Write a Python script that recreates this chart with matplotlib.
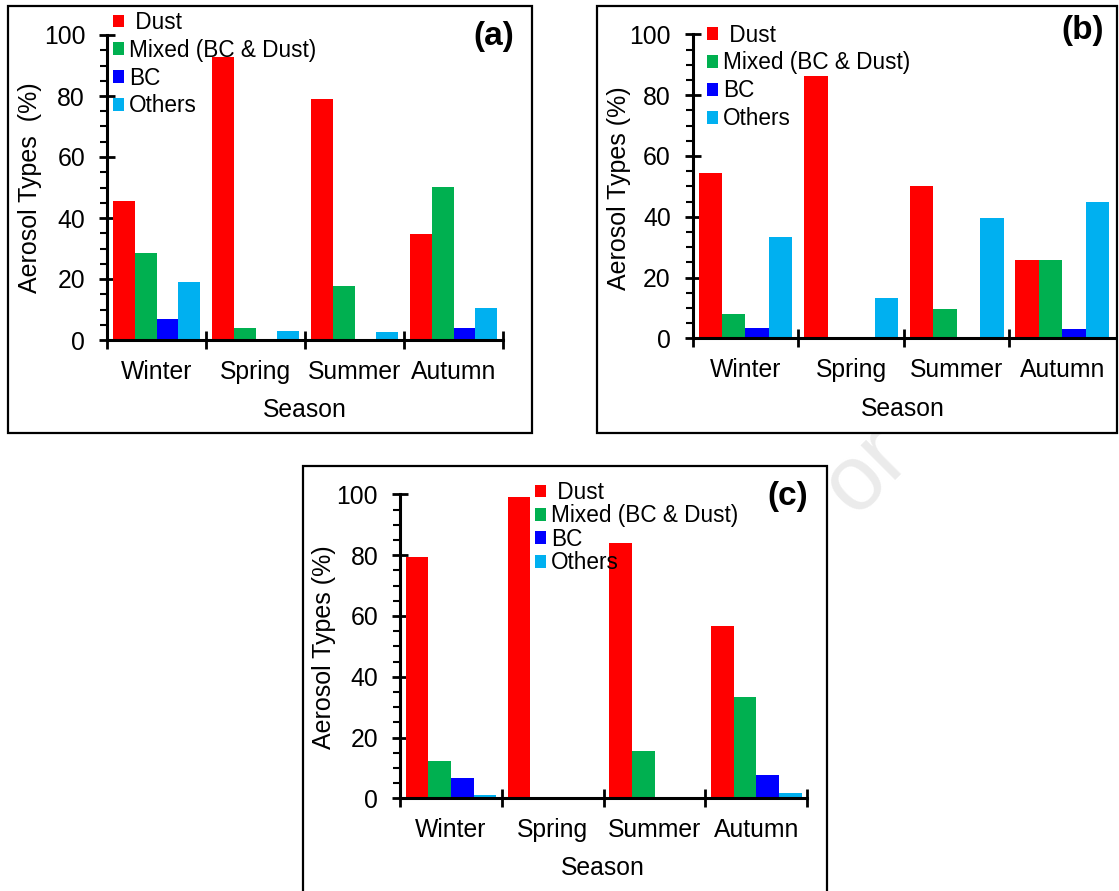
import matplotlib
matplotlib.use('Agg')
import matplotlib.pyplot as plt
from matplotlib.patches import Patch, Rectangle
from matplotlib.ticker import MultipleLocator
import numpy as np

plt.rcParams['font.family'] = ['Liberation Sans', 'DejaVu Sans']

# ---------------- data ----------------
seasons = ["Winter", "Spring", "Summer", "Autumn"]
aerosol_types = ["Dust", "Mixed (BC & Dust)", "BC", "Others"]
legend_labels = [" Dust", "Mixed (BC & Dust)", "BC", "Others"]
colors = ["#FF0000", "#00B050", "#0000FF", "#00B0F0"]

a_dust = [45.5, 92.7, 79.0, 34.8]
a_mixed = [28.4, 3.8, 17.8, 50.2]
a_bc = [6.8, 0.0, 0.0, 3.8]
a_others = [18.9, 3.0, 2.7, 10.6]

b_dust = [54.3, 86.3, 50.1, 25.8]
b_mixed = [7.9, 0.0, 9.5, 25.8]
b_bc = [3.3, 0.0, 0.0, 3.0]
b_others = [33.4, 13.2, 39.5, 44.8]

c_dust = [79.3, 99.0, 84.0, 56.7]
c_mixed = [12.4, 0.5, 15.5, 33.3]
c_bc = [6.6, 0.0, 0.0, 7.7]
c_others = [1.1, 0.0, 0.0, 1.9]

# ---------------- layout (pixels) ----------------
W, H = 1119, 891
fig = plt.figure(figsize=(W / 100, H / 100), dpi=100)

panels = [
    dict(tag="(a)", series=[a_dust, a_mixed, a_bc, a_others],
         ax=(107, 503, 340, 35), border=(8, 6, 532, 433),
         ylabel="Aerosol Types  (%)", ylab=(42, 188), xlab=(305, 398),
         xticks=[0, 1, 2, 3, 4], leg=(113, 11, 0.21), tagpos=(494, 37)),
    dict(tag="(b)", series=[b_dust, b_mixed, b_bc, b_others],
         ax=(692.7, 1115, 338.3, 34.3), border=(596.7, 6, 1116.5, 433),
         ylabel="Aerosol Types (%)", ylab=(631, 188), xlab=(903, 397),
         xticks=[0, 1, 2, 3], leg=(707, 23.5, 0.22), tagpos=(1082.5, 31)),
    dict(tag="(c)", series=[c_dust, c_mixed, c_bc, c_others],
         ax=(400, 807.3, 798.3, 494.3), border=(302.7, 465.7, 826.7, 905),
         ylabel="Aerosol Types (%)", ylab=(336, 647), xlab=(603, 856),
         xticks=[0, 1, 2, 3, 4], leg=(535, 481, 0.02), tagpos=(788, 496)),
]

# faint watermark fragment
fig.text(866 / W, 1 - 472 / H, "or", rotation=45, color="#ebebeb",
         fontsize=66, ha="center", va="center", zorder=0.2)

ncat = len(seasons)
w = 0.222
x = np.arange(ncat) + 0.5

for p in panels:
    bx0, by0, bx1, by1 = p["border"]
    fig.add_artist(Rectangle((bx0 / W, 1 - by1 / H), (bx1 - bx0) / W, (by1 - by0) / H,
                             transform=fig.transFigure, facecolor="white",
                             edgecolor="black", linewidth=1.6, zorder=0.5))
    x0, x1, y0, y1 = p["ax"]
    ax = fig.add_axes([x0 / W, 1 - y0 / H, (x1 - x0) / W, (y0 - y1) / H])
    ax.set_zorder(2)
    ax.patch.set_facecolor("none")

    for j, (vals, col) in enumerate(zip(p["series"], colors)):
        ax.bar(x + (j - 1.5) * w, vals, width=w, color=col, linewidth=0,
               label=aerosol_types[j], zorder=2)

    ax.set_xlim(0, ncat)
    ax.set_ylim(0, 100)
    for s in ["top", "right"]:
        ax.spines[s].set_visible(False)
    for s in ["left", "bottom"]:
        ax.spines[s].set_linewidth(2.2)

    ax.set_yticks(np.arange(0, 101, 20))
    ax.yaxis.set_minor_locator(MultipleLocator(5))
    ax.tick_params(axis="y", which="major", direction="inout", length=11.5,
                   width=2.0, labelsize=17.8, pad=10)
    ax.tick_params(axis="y", which="minor", direction="out", length=5,
                   width=1.5)

    ax.set_xticks(p["xticks"])
    ax.set_xticklabels([""] * len(p["xticks"]))
    ax.set_xticks(x, minor=True)
    ax.set_xticklabels(seasons, minor=True)
    ax.tick_params(axis="x", which="major", direction="inout", length=13,
                   width=2.0)
    ax.tick_params(axis="x", which="minor", length=0, labelsize=17.8, pad=14.5)

    ax.set_ylabel(p["ylabel"], fontsize=18)
    ax.yaxis.set_label_coords(p["ylab"][0] / W, 1 - p["ylab"][1] / H,
                              transform=fig.transFigure)
    ax.set_xlabel("Season", fontsize=17.8)
    ax.xaxis.set_label_coords(p["xlab"][0] / W, 1 - p["xlab"][1] / H,
                              transform=fig.transFigure)

    handles = [Patch(facecolor=c, edgecolor="none") for c in colors]
    lx, ly, ls = p["leg"]
    leg = ax.legend(handles, legend_labels, loc="upper left",
                    bbox_to_anchor=(lx / W, 1 - ly / H),
                    bbox_transform=fig.transFigure, frameon=False,
                    fontsize=16.3, handlelength=0.5, handleheight=0.5,
                    handletextpad=0.22, labelspacing=ls, borderpad=0,
                    borderaxespad=0)
    leg.set_zorder(10)

    tx, ty = p["tagpos"]
    fig.text(tx / W, 1 - ty / H, p["tag"], ha="center", va="center",
             fontsize=24, fontweight="bold", zorder=5)

fig.savefig("out.png", dpi=100, facecolor="white")
